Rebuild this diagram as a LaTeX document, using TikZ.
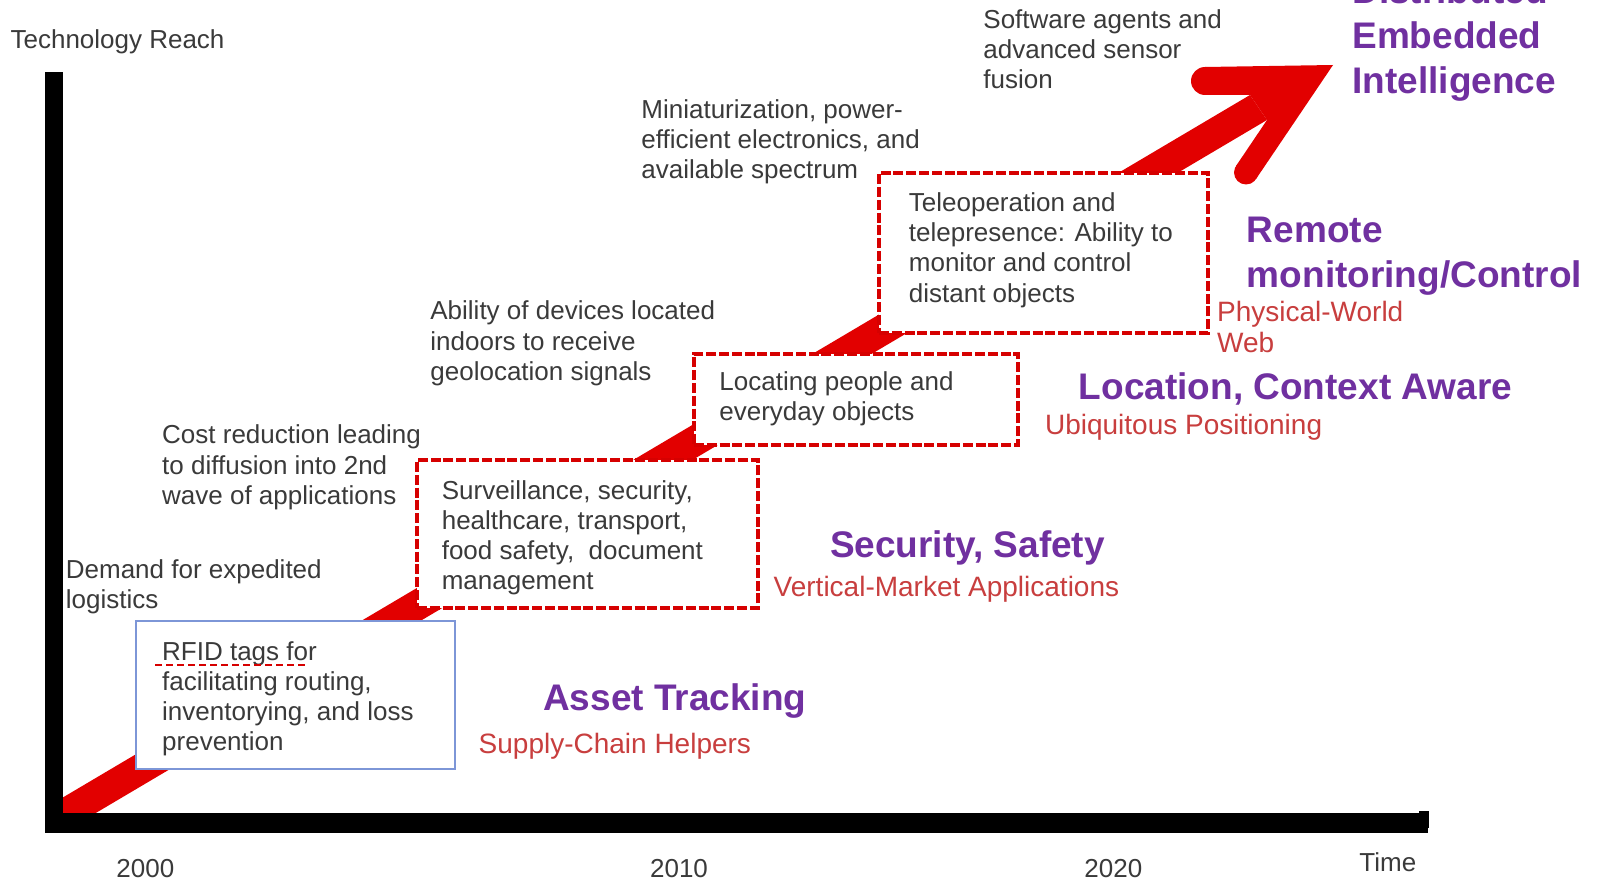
\documentclass[tikz,border=0pt]{standalone}
\usepackage{fontspec}
\setmainfont{Liberation Sans}
\definecolor{txtgray}{RGB}{58,58,58}
\definecolor{purp}{RGB}{112,48,160}
\definecolor{lblred}{RGB}{200,62,62}
\definecolor{bandred}{RGB}{226,0,0}
\definecolor{boxred}{RGB}{214,0,0}
\definecolor{boxblue}{RGB}{125,150,215}
\begin{document}
\begin{tikzpicture}[x=0.5pt,y=-0.5pt,
  graytxt/.style={inner sep=0pt, anchor=north west, align=left, text=txtgray, font=\fontsize{13}{15.1}\selectfont},
  purptxt/.style={inner sep=0pt, anchor=north west, align=left, text=purp, font=\fontsize{18.5}{22.5}\selectfont\bfseries},
  redtxt/.style={inner sep=0pt, anchor=north west, align=left, text=lblred, font=\fontsize{14}{15.4}\selectfont},
  yeartxt/.style={inner sep=0pt, anchor=base, text=txtgray, font=\fontsize{13}{15.1}\selectfont},
  dbox/.style={draw=boxred, line width=2pt, dash pattern=on 5pt off 1.4pt, fill=white, anchor=north west, inner sep=0pt},
  bbox/.style={draw=boxblue, line width=1pt, fill=white, anchor=north west, inner sep=0pt},
  bandfill/.style={fill=bandred, draw=none}
]
\useasboundingbox (0,0) rectangle (1606,882);
\fill[white] (0,0) rectangle (1606,882);

% red band (shaft) and arrow head
\begin{scope}
  \clip (55,0) rectangle (1606,825);
  \path[bandfill] (40,811) -- (1250,95) -- (1267,120) -- (40,846) -- cycle;
\end{scope}
\path[bandfill] (1333,65) -- (1205,67) -- (1205,95) -- (1250,95) -- (1267,120) -- (1236,166) -- (1256,179) -- cycle;
\path[bandfill] (1205,81) circle [radius=14];
\path[bandfill] (1246,172.5) circle [radius=12];

% axes
\fill[black] (45,72) rectangle (63,833);
\fill[black] (45,813) rectangle (1428,833);
\fill[black] (1419,811) rectangle (1429,828);

% boxes
\node[bbox, minimum width=159.5pt, minimum height=74pt] (rfidbox) at (135,620) {};
\node[dbox, minimum width=170.5pt, minimum height=74pt] (survbox) at (415,458) {};
\node[dbox, minimum width=162pt, minimum height=45.5pt] (locbox) at (692,352) {};
\node[dbox, minimum width=164.5pt, minimum height=80pt] (telebox) at (877,171) {};

% box texts
\node[graytxt] (rfidtxt) at (161.8,640.8) {RFID tags for\\facilitating routing,\\inventorying, and loss\\prevention};
\draw[boxred, line width=1.3pt, dash pattern=on 3.5pt off 2pt] (155,665) -- (307,665);
\node[graytxt] (survtxt) at (441.4,480) {Surveillance, security,\\healthcare, transport,\\food safety,\ \ document\\management};
\node[graytxt] (loctxt) at (719,371.4) {Locating people and\\everyday objects};
\node[graytxt] (teletxt) at (908.5,192.2) {Teleoperation and\\telepresence: Ability to\\monitor and control\\distant objects};

% driver texts
\node[inner sep=0pt, anchor=base west, text=txtgray, font=\fontsize{13}{15.1}\selectfont] (ylabel) at (10.2,49) {Technology Reach};
\node[graytxt] (demand) at (65.5,558.8) {Demand for expedited\\logistics};
\node[graytxt] (cost) at (161.8,424.7) {Cost reduction leading\\to diffusion into 2nd\\wave of applications};
\node[graytxt] (ability) at (430,300.7) {Ability of devices located\\indoors to receive\\geolocation signals};
\node[graytxt] (mini) at (641,99) {Miniaturization, power-\\efficient electronics, and\\available spectrum};
\node[graytxt] (soft) at (983,8.8) {Software agents and\\advanced sensor\\fusion};

% purple stage labels
\node[purptxt] (asset) at (542.8,683) {Asset Tracking};
\node[purptxt] (secur) at (829.6,530.5) {Security, Safety};
\node[purptxt] (locctx) at (1078.5,372.5) {Location, Context Aware};
\node[purptxt] (remote) at (1246.5,217) {Remote\\monitoring/Control};
\node[purptxt] (distr) at (1352,-23.7) {Distributed\\Embedded\\Intelligence};

% red sub labels
\node[redtxt] (supply) at (478.3,733) {Supply-Chain Helpers};
\node[redtxt] (vert) at (773.3,575.4) {Vertical-Market Applications};
\node[redtxt] (ubiq) at (1044.7,413.4) {Ubiquitous Positioning};
\node[redtxt] (phys) at (1216.7,300.8) {Physical-World\\Web};

% time axis labels
\node[yeartxt] (y2000) at (145.4,877) {2000};
\node[yeartxt] (y2010) at (679,877) {2010};
\node[yeartxt] (y2020) at (1113.3,877) {2020};
\node[yeartxt] (time) at (1387.8,871) {Time};
\end{tikzpicture}
\end{document}
